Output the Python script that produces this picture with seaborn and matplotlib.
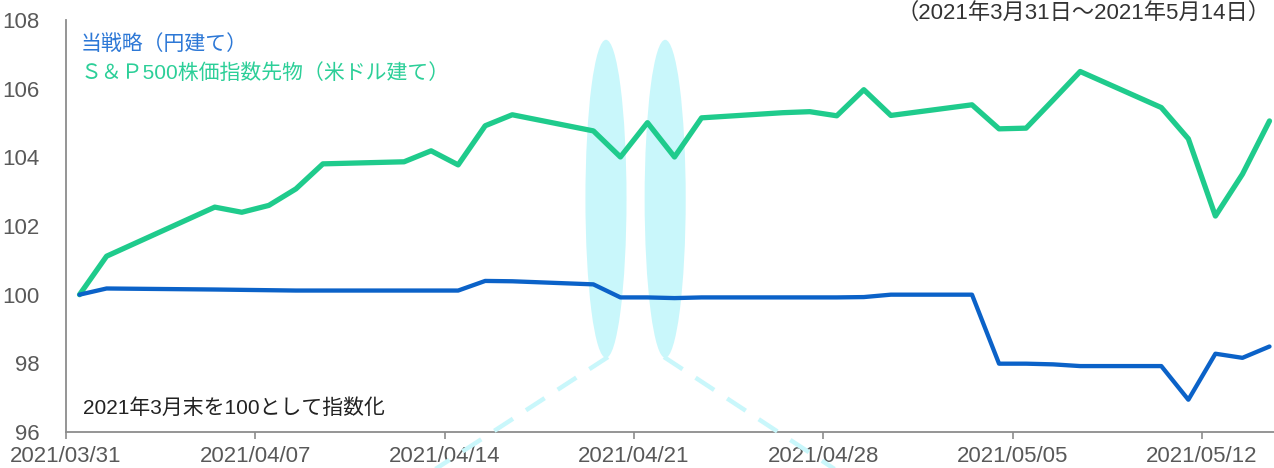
import numpy as np
import pandas as pd
import matplotlib
matplotlib.use("Agg")
import matplotlib.pyplot as plt
import seaborn as sns
from matplotlib.patches import Ellipse
from matplotlib.lines import Line2D

# ---- data ----
dates = ["2021-03-31", "2021-04-01", "2021-04-05", "2021-04-06", "2021-04-07", "2021-04-08",
         "2021-04-09", "2021-04-12", "2021-04-13", "2021-04-14", "2021-04-15", "2021-04-16",
         "2021-04-19", "2021-04-20", "2021-04-21", "2021-04-22", "2021-04-23", "2021-04-26",
         "2021-04-27", "2021-04-28", "2021-04-29", "2021-04-30", "2021-05-03", "2021-05-04",
         "2021-05-05", "2021-05-06", "2021-05-07", "2021-05-10", "2021-05-11", "2021-05-12",
         "2021-05-13", "2021-05-14"]
strategy = [100.00, 100.18, 100.15, 100.14, 100.13, 100.12, 100.12, 100.12, 100.12, 100.12,
            100.40, 100.39, 100.30, 99.92, 99.92, 99.90, 99.92, 99.92, 99.92, 99.92,
            99.93, 100.00, 100.00, 97.99, 97.99, 97.97, 97.92, 97.92, 96.94, 98.28,
            98.16, 98.49]
sp500 = [100.00, 101.12, 102.55, 102.40, 102.60, 103.08, 103.81, 103.87, 104.19, 103.78,
         104.92, 105.24, 104.77, 104.01, 105.01, 104.01, 105.15, 105.30, 105.33, 105.21,
         105.97, 105.22, 105.53, 104.83, 104.85, 105.67, 106.50, 105.45, 104.54, 102.29,
         103.51, 105.06]
series_names = ["当戦略（円建て）", "Ｓ＆Ｐ500株価指数先物（米ドル建て）"]
tick_labels = ["2021/03/31", "2021/04/07", "2021/04/14", "2021/04/21",
               "2021/04/28", "2021/05/05", "2021/05/12"]
y_ticks = [96, 98, 100, 102, 104, 106, 108]
period_text = "（2021年3月31日～2021年5月14日）"
note_text = "2021年3月末を100として指数化"

# ---- style ----
sns.set_theme(style="white")
plt.rcParams["font.family"] = ["Liberation Sans", "Noto Sans CJK JP", "DejaVu Sans"]

blue = "#0b62c8"
green = "#1fcb8c"
blue_txt = "#2d78d6"
green_txt = "#2ccf98"
cyan = "#c9f7fb"

fig = plt.figure(figsize=(12.74, 4.68), dpi=100)
ax = fig.add_axes([66 / 1274, 36 / 468, (1274 - 66) / 1274, (432 - 20) / 468])

df = pd.DataFrame({"date": pd.to_datetime(dates), "strategy": strategy, "sp500": sp500})

# highlight ellipses (behind lines)
for cx in (0.447, 0.496):
    ax.add_patch(Ellipse((cx, 0.566), 0.034, 0.772, transform=ax.transAxes,
                         facecolor=cyan, edgecolor="none", zorder=0))

sns.lineplot(data=df, x="date", y="sp500", ax=ax, color=green, linewidth=3.8, zorder=3)
sns.lineplot(data=df, x="date", y="strategy", ax=ax, color=blue, linewidth=3.1, zorder=4)

# dashed connector lines (figure coordinates)
for (x0, y0, x1, y1) in [(608, 357, 434, 470), (664, 357, 836, 470)]:
    fig.add_artist(Line2D([x0 / 1274, x1 / 1274], [1 - y0 / 468, 1 - y1 / 468],
                          transform=fig.transFigure, color=cyan, linewidth=3.2,
                          linestyle=(0, (5, 3.5)), zorder=1))

start = pd.Timestamp(dates[0]) - pd.Timedelta(hours=12)
end = pd.Timestamp(dates[-1]) + pd.Timedelta(hours=4)
ax.set_xlim(start, end)
ax.set_ylim(96, 108)

tick_pos = pd.to_datetime(tick_labels) - pd.Timedelta(hours=12)
ax.set_xticks(tick_pos)
ax.set_xticklabels(tick_labels)
ax.set_yticks(y_ticks)
ax.set_yticklabels([str(v) for v in y_ticks])

ax.set_xlabel("")
ax.set_ylabel("")
for s in ("top", "right"):
    ax.spines[s].set_visible(False)
for s in ("left", "bottom"):
    ax.spines[s].set_color("#8c8c8c")
    ax.spines[s].set_linewidth(1.3)

ax.tick_params(axis="x", which="both", bottom=True, length=5, width=1.2, color="#8c8c8c",
               labelsize=16, labelcolor="#595959", pad=5)
ax.tick_params(axis="y", left=False, labelsize=16, labelcolor="#595959", pad=13)

# legend-like texts
ax.text(0.012, 0.942, series_names[0], transform=ax.transAxes, color=blue_txt,
        fontsize=15, va="center", ha="left")
ax.text(0.012, 0.872, series_names[1], transform=ax.transAxes, color=green_txt,
        fontsize=15, va="center", ha="left")

fig.text(1270 / 1274, 1 - 13 / 468, period_text, color="#333333", fontsize=16,
         ha="right", va="center")
ax.text(0.014, 0.058, note_text, transform=ax.transAxes, color="#222222",
        fontsize=15, ha="left", va="center")

fig.savefig("out.png", dpi=100)
